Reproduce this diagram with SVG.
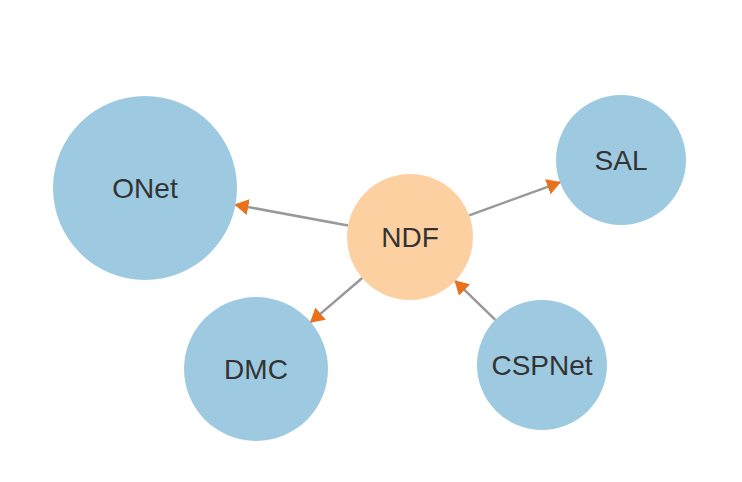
<svg xmlns="http://www.w3.org/2000/svg" width="742" height="482" viewBox="0 0 742 482">
<style>
.blue{fill:#9ecae1}
.orange{fill:#fdd0a2}
.lbl{font-family:"Liberation Sans",Arial,sans-serif;font-size:28px;fill:#333;text-anchor:middle}
.edge{stroke:#999;stroke-width:2.5;fill:none;marker-end:url(#arr)}
</style>
<defs>
<marker id="arr" markerUnits="userSpaceOnUse" markerWidth="14" markerHeight="16" refX="13" refY="8" orient="auto" viewBox="0 0 14 16">
<path d="M0,0 L14,8 L0,16 z" fill="#e8711a"/>
</marker>
</defs>
<rect width="742" height="482" fill="#fff"/>
<g id="connectors">
<line class="edge" x1="348" y1="225.5" x2="235.4" y2="204.7"/>
<line class="edge" x1="469.2" y1="215.4" x2="560" y2="182.3"/>
<line class="edge" x1="362.2" y1="278" x2="310.7" y2="322.1"/>
<line class="edge" x1="495.3" y1="319.8" x2="455.2" y2="280.9"/>
</g>
<g id="ONet"><circle class="blue" cx="145" cy="188" r="92"/><text class="lbl" x="145" y="198">ONet</text></g>
<g id="NDF"><circle class="orange" cx="410" cy="237" r="63"/><text class="lbl" x="410" y="247">NDF</text></g>
<g id="SAL"><circle class="blue" cx="621" cy="160" r="65"/><text class="lbl" x="621" y="170">SAL</text></g>
<g id="DMC"><circle class="blue" cx="256" cy="369" r="72"/><text class="lbl" x="256" y="379">DMC</text></g>
<g id="CSPNet"><circle class="blue" cx="542" cy="365" r="65"/><text class="lbl" x="542" y="375">CSPNet</text></g>
</svg>
